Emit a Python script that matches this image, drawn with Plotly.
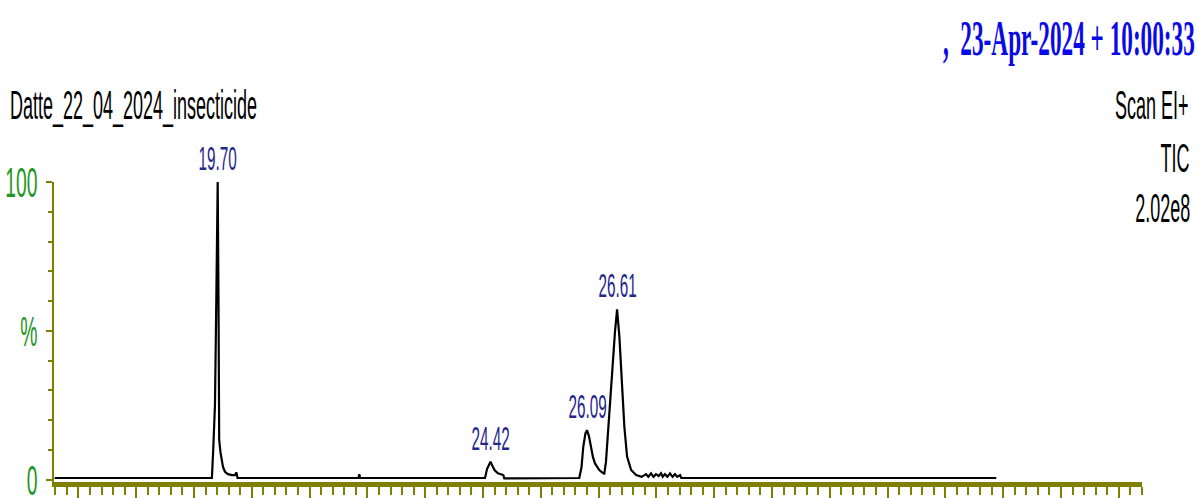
import plotly.graph_objects as go

# ---- data ----
times = [16.88, 19.60, 19.624, 19.653, 19.676, 19.684, 19.70, 19.714, 19.726, 19.748,
         19.769, 19.792, 19.826, 19.878, 19.947, 19.999, 20.025, 20.043,
         22.136, 22.150, 22.165,
         24.325, 24.36, 24.42, 24.455, 24.489, 24.548, 24.605, 24.641, 24.659,
         25.956, 25.994, 26.025, 26.063, 26.09, 26.124, 26.153, 26.193, 26.228, 26.302,
         26.371, 26.389, 26.418, 26.458, 26.496, 26.534, 26.574, 26.595, 26.61, 26.65,
         26.697, 26.736, 26.783, 26.853, 26.939, 27.036,
         27.11, 27.15, 27.197, 27.24, 27.283, 27.33, 27.37, 27.40, 27.439, 27.48,
         27.525, 27.57, 27.612, 27.65, 27.699, 27.72,
         33.17]
intensity = [0.5, 0.5, 10.6, 25.0, 60.3, 81.5, 100.0, 60.3, 13.3, 9.2,
             6.6, 4.2, 2.6, 1.8, 1.5, 1.5, 2.4, 0.5,
             0.5, 1.8, 0.5,
             0.5, 3.5, 6.0, 4.5, 3.2, 2.1, 1.8, 1.5, 0.4,
             0.5, 4.0, 11.0, 15.5, 16.6, 14.5, 11.0, 7.5, 5.4, 3.2,
             2.1, 2.0, 6.0, 17.7, 30.0, 40.2, 49.7, 54.0, 57.2, 48.0,
             33.4, 17.7, 7.7, 3.2, 1.5, 0.9,
             1.8, 0.9, 2.1, 0.9, 1.8, 1.2, 2.1, 0.9, 1.8, 0.9,
             2.1, 0.9, 1.8, 0.9, 1.5, 0.5,
             0.5]

peak_times = [19.70, 24.42, 26.09, 26.61]
peak_heights = [100.0, 6.0, 16.6, 57.2]

y_tickvals = [0, 50, 100]
y_ticktext = ["0", "%", "100"]

sample_name = "Datte_22_04_2024_insecticide"
date_text = ",  23-Apr-2024 + 10:00:33"
info_lines = ["Scan EI+", "TIC", "2.02e8"]

OLIVE = "#808000"
GREEN = "#249624"
NAVY = "#26268f"
BLUE = "#0a0ae6"
SANS = "Liberation Sans, Arial, sans-serif"
SERIF = "Liberation Serif, Times New Roman, serif"

fig = go.Figure()
fig.add_trace(go.Scatter(x=times, y=intensity, mode="lines",
                         line=dict(color="black", width=2.2),
                         cliponaxis=False, hoverinfo="skip"))

annotations = []
for t, h in zip(peak_times, peak_heights):
    annotations.append(dict(x=t, y=h, xref="x", yref="y", text=f"{t:.2f}",
                            showarrow=False, xanchor="center", yanchor="middle",
                            yshift=24, font=dict(family=SANS, size=34, color=NAVY)))

annotations.append(dict(x=-0.0423, y=1.2563, xref="paper", yref="paper",
                        text=sample_name, showarrow=False, xanchor="left", align="left",
                        yanchor="middle", font=dict(family=SANS, size=40, color="black")))
annotations.append(dict(x=1.0506, y=1.4797, xref="paper", yref="paper",
                        text="<b>" + date_text + "</b>", showarrow=False, xanchor="right",
                        align="right", yanchor="middle",
                        font=dict(family=SERIF, size=50, color=BLUE)))
info_y = [1.2563, 1.0807, 0.914]
info_x = [1.0441, 1.0450, 1.0460]
for txt, yy, xx in zip(info_lines, info_y, info_x):
    annotations.append(dict(x=xx, y=yy, xref="paper", yref="paper", text=txt,
                            showarrow=False, xanchor="right", align="right",
                            yanchor="middle", font=dict(family=SANS, size=40, color="black")))

fig.update_layout(
    width=1198, height=498,
    margin=dict(l=54, r=56, t=182, b=16, pad=0, autoexpand=False),
    paper_bgcolor="white", plot_bgcolor="white",
    showlegend=False,
    annotations=annotations,
    xaxis=dict(range=[16.868, 35.692], showgrid=False, zeroline=False, automargin=False,
               showline=True, linecolor=OLIVE, linewidth=4.5,
               ticks="outside", ticklen=12, tickwidth=1.6, tickcolor=OLIVE,
               tick0=17.29, dtick=1, showticklabels=False,
               minor=dict(ticks="outside", tick0=17.29, dtick=0.2, ticklen=8,
                          tickwidth=1.6, tickcolor=OLIVE, showgrid=False)),
    yaxis=dict(range=[-0.84, 100.0], showgrid=False, zeroline=False, automargin=False,
               showline=True, linecolor=OLIVE, linewidth=2,
               ticks="outside", ticklen=6, tickwidth=1.5, tickcolor=OLIVE,
               tickmode="array", tickvals=y_tickvals, ticktext=y_ticktext,
               ticklabeloverflow="allow",
               tickfont=dict(family=SANS, size=43, color=GREEN),
               minor=dict(ticks="outside", tick0=0, dtick=10, ticklen=4,
                          tickwidth=1.5, tickcolor=OLIVE, showgrid=False)),
)

post = """
document.body.style.margin = '0';
document.body.style.padding = '0';
document.body.style.overflow = 'hidden';
var gd = document.getElementById('{plot_id}');
gd.querySelectorAll('svg text').forEach(function(t){
  if(!t.textContent || t.getAttribute('data-sq')) return;
  var bb = t.getBBox();
  var anc = t.getAttribute('text-anchor') || 'start';
  var ax = anc === 'middle' ? bb.x + bb.width/2 : (anc === 'end' ? bb.x + bb.width : bb.x);
  var ff = t.style.fontFamily || '';
  var s = ff.indexOf('Serif') >= 0 ? 0.465 : 0.45;
  var tr = t.getAttribute('transform') || '';
  t.setAttribute('transform', tr + ' translate(' + ax + ',0) scale(' + s + ',1) translate(' + (-ax) + ',0)');
  t.setAttribute('data-sq', '1');
});
"""

fig.write_html("out.html", config={"displayModeBar": False}, post_script=post)
